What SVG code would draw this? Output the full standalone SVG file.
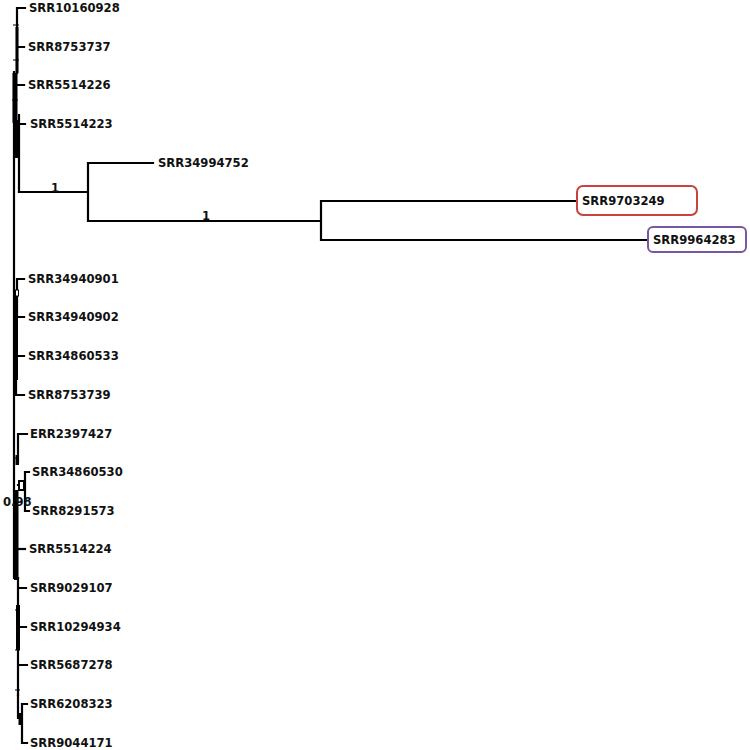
<svg xmlns="http://www.w3.org/2000/svg" width="750" height="750" viewBox="0 0 750 750">
<style>
.e{fill:none;stroke:#000;stroke-width:2.2;stroke-linecap:square}
.b{fill:#000}
.t{font-family:"DejaVu Sans","Liberation Sans",sans-serif;font-weight:bold;font-size:11.6px;fill:#111}
.s{font-family:"DejaVu Sans","Liberation Sans",sans-serif;font-weight:bold;font-size:11.6px;fill:#111;text-anchor:middle}
</style>
<rect width="750" height="750" fill="#fff"/>
<g id="connectors">
<path class="e" d="M14,72V578M14,578H18"/>
<path class="e" d="M17,8V73M17,8H25M17,47H24M15,85H24"/>
<rect class="b" x="15.5" y="27" width="3" height="46"/>
<rect class="b" x="12.5" y="73" width="5" height="50"/>
<path class="e" d="M19,115V192M19,124H25"/>
<rect class="b" x="15" y="120" width="4" height="38"/>
<path class="e" d="M19,192H88M88,163V221M88,163H153M88,221H321M321,201V240M321,201H577M321,240H648"/>
<path class="e" d="M17,279V317M17,279H24M17,317H24M16,356H24M16,375V395H24"/>
<rect class="b" x="14" y="293" width="4" height="87"/>
<rect x="15.5" y="290" width="3" height="6" fill="#fff" stroke="#000" stroke-width="1"/>
<path class="e" d="M18,434V462M18,434H27"/>
<rect class="b" x="15.5" y="455" width="3.5" height="10"/>
<path class="e" d="M25,472V511M25,472H29M25,511H29M18,485H25"/>
<rect x="19" y="481" width="5" height="9" fill="#fff" stroke="#000" stroke-width="2"/>
<rect class="b" x="14" y="490" width="4.5" height="90"/>
<path class="e" d="M17,549H25"/>
<path class="e" d="M18,578V695M18,588H26M18,627H26M18,665H27"/>
<rect class="b" x="16" y="605" width="4" height="45"/>
<path class="e" d="M18,695V718H22M22,704V743M22,704H27M22,743H27"/>
<rect class="b" x="18.5" y="713" width="4" height="12"/>
<path d="M13,25H19M13,60H19M12,100H18M13,155H20M13,335H18M13,345H18M13,458H19M15,610H20M15,650H20M15,690H20" stroke="#000" stroke-width="1"/>
</g>
<g id="supports">
<text class="s" x="55" y="192">1</text>
<text class="s" x="206" y="220">1</text>
<text class="t" x="3" y="506">0.98</text>
</g>
<g id="SRR10160928"><text class="t" x="29" y="12">SRR10160928</text></g>
<g id="SRR8753737"><text class="t" x="28" y="51">SRR8753737</text></g>
<g id="SRR5514226"><text class="t" x="28" y="89">SRR5514226</text></g>
<g id="SRR5514223"><text class="t" x="30" y="128">SRR5514223</text></g>
<g id="SRR34994752"><text class="t" x="158" y="167">SRR34994752</text></g>
<g id="SRR9703249"><rect x="577" y="186" width="120" height="29" rx="6" fill="#fff" stroke="#c9423f" stroke-width="2"/><text class="t" x="582" y="205">SRR9703249</text></g>
<g id="SRR9964283"><rect x="648" y="227" width="98" height="25" rx="5" fill="#fff" stroke="#7a55a0" stroke-width="2"/><text class="t" x="653" y="244">SRR9964283</text></g>
<g id="SRR34940901"><text class="t" x="28" y="283">SRR34940901</text></g>
<g id="SRR34940902"><text class="t" x="28" y="321">SRR34940902</text></g>
<g id="SRR34860533"><text class="t" x="28" y="360">SRR34860533</text></g>
<g id="SRR8753739"><text class="t" x="28" y="399">SRR8753739</text></g>
<g id="ERR2397427"><text class="t" x="30" y="438">ERR2397427</text></g>
<g id="SRR34860530"><text class="t" x="32" y="476">SRR34860530</text></g>
<g id="SRR8291573"><text class="t" x="32" y="515">SRR8291573</text></g>
<g id="SRR5514224"><text class="t" x="29" y="553">SRR5514224</text></g>
<g id="SRR9029107"><text class="t" x="30" y="592">SRR9029107</text></g>
<g id="SRR10294934"><text class="t" x="30" y="631">SRR10294934</text></g>
<g id="SRR5687278"><text class="t" x="30" y="669">SRR5687278</text></g>
<g id="SRR6208323"><text class="t" x="30" y="708">SRR6208323</text></g>
<g id="SRR9044171"><text class="t" x="30" y="747">SRR9044171</text></g>
</svg>
